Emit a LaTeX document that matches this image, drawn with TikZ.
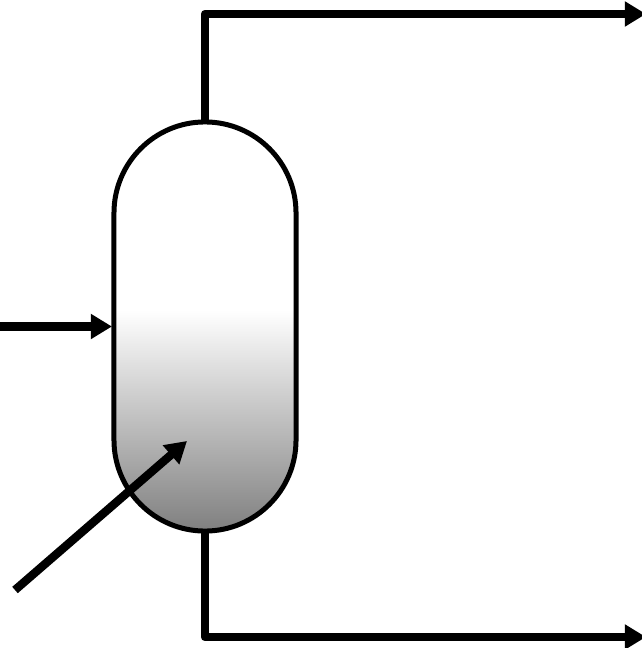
\documentclass[tikz,border=0pt]{standalone}
\usepackage{amsmath}
\usetikzlibrary{arrows.meta}

\pgfdeclareverticalshading{vesselshade}{100bp}{color(0bp)=(black!50); color(25bp)=(black!50); color(52bp)=(white); color(100bp)=(white)}

\tikzset{
    vessel/.style={draw, line width=0.125cm, shading=vesselshade, minimum width=4.55cm, minimum height=10.225cm, rounded corners=2.275cm, inner sep=0pt, outer sep=0pt},
    pipe/.style={line width=0.21cm, line join=round},
    stream/.style={pipe, -{Triangle[length=0.53cm, width=0.6cm]}}
}

\begin{document}
\begin{tikzpicture}[x=0.025cm, y=-0.025cm]
            \useasboundingbox (0,0) rectangle (641,648);
            % column
            \node[vessel] (column) at (205,326.5) {};
            % free ends of the streams
            \coordinate (topbend) at (205,14);
            \coordinate (topout) at (646,14);
            \coordinate (botbend) at (205,637);
            \coordinate (botout) at (646,637);
            \coordinate (feedin) at (0,326.5);
            \coordinate (sidein) at (15,590);
            \coordinate (sidetip) at (187,441);
            % streams
            \draw[stream] (column.north) -- (topbend) -- (topout);
            \draw[stream] (column.south) -- (botbend) -- (botout);
            \draw[stream, shorten >=0.05cm] (feedin) -- (column.west);
            \draw[stream] (sidein) -- (sidetip);
        \end{tikzpicture}
\end{document}
